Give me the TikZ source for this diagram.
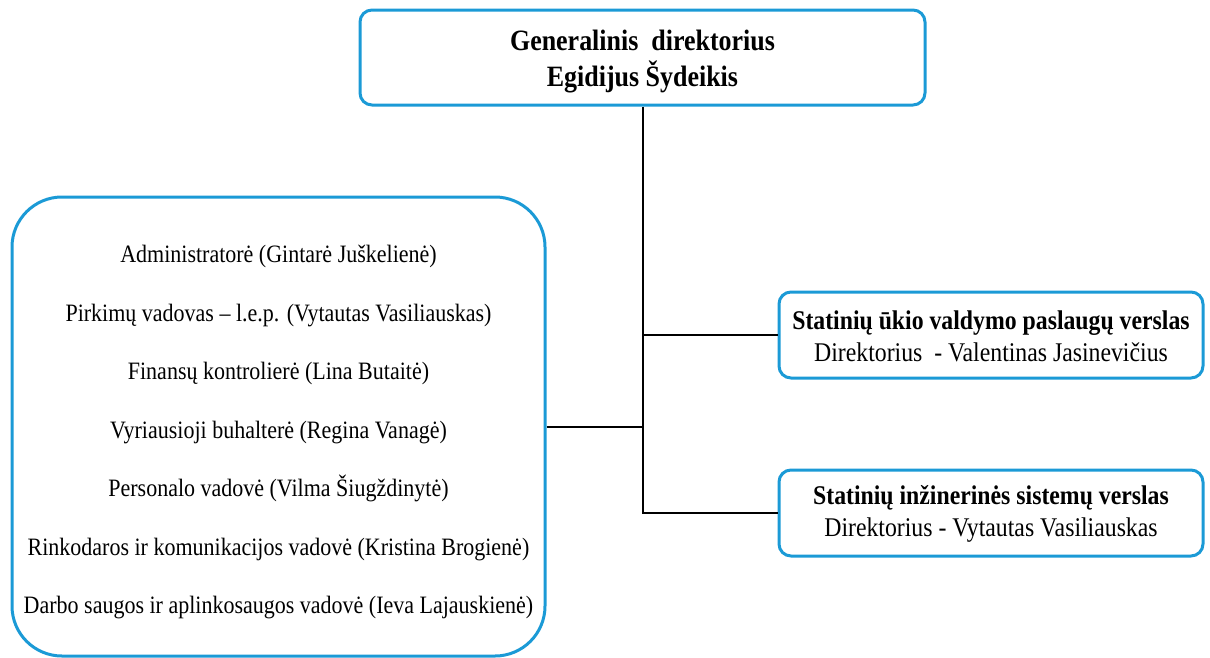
\documentclass[tikz,border=0pt]{standalone}
\usepackage{fontspec}
\setmainfont[FakeStretch=0.88]{Liberation Serif}
\definecolor{boxblue}{RGB}{27,154,214}
\begin{document}
\begin{tikzpicture}[x=1pt,y=-1pt,
  bluebox/.style={draw=boxblue,line width=3pt,rounded corners=12pt,fill=white,inner sep=0pt},
  conn/.style={draw=black,line width=2pt},
  toptxt/.style={font=\fontsize{29.5}{36}\selectfont\bfseries,align=center},
  normtxt/.style={font=\fontsize{25}{58.5}\selectfont,align=center},
  righttxt/.style={font=\fontsize{27}{32}\selectfont,align=center}]
\useasboundingbox (0,0) rectangle (1210,657);
% boxes
\node[bluebox,minimum width=565pt,minimum height=95pt] (top) at (642.5,57.5) {};
\node[toptxt] (toptext) at (642.5,62) {Generalinis\ \ direktorius\\Egidijus Šydeikis};
\node[bluebox,rounded corners=50pt,minimum width=533pt,minimum height=459pt] (left) at (278.5,426.5) {};
\node[normtxt] (stafftext) at (278.5,432) {Administratorė (Gintarė Juškelienė)\\
Pirkimų vadovas – l.e.p. (Vytautas Vasiliauskas)\\
Finansų kontrolierė (Lina Butaitė)\\
Vyriausioji buhalterė (Regina Vanagė)\\
Personalo vadovė (Vilma Šiugždinytė)\\
Rinkodaros ir komunikacijos vadovė (Kristina Brogienė)\\
Darbo saugos ir aplinkosaugos vadovė (Ieva Lajauskienė)};
\node[bluebox,minimum width=424pt,minimum height=86pt] (b1) at (991,335) {};
\node[righttxt] (b1text) at (991,336) {\textbf{Statinių ūkio valdymo paslaugų verslas}\\Direktorius\ \ - Valentinas Jasinevičius};
\node[bluebox,minimum width=424pt,minimum height=86pt] (b2) at (991,513) {};
\node[righttxt] (b2text) at (991,514) {\textbf{Statinių inžinerinės sistemų verslas}\\Direktorius - Vytautas Vasiliauskas};
% connectors
\draw[conn] (top.south) -- (top.south |- b2.west) -- (b2.west);
\draw[conn] (top.south |- b1.west) -- (b1.west);
\draw[conn] (left.east) -- (left.east -| top.south);
\end{tikzpicture}
\end{document}
